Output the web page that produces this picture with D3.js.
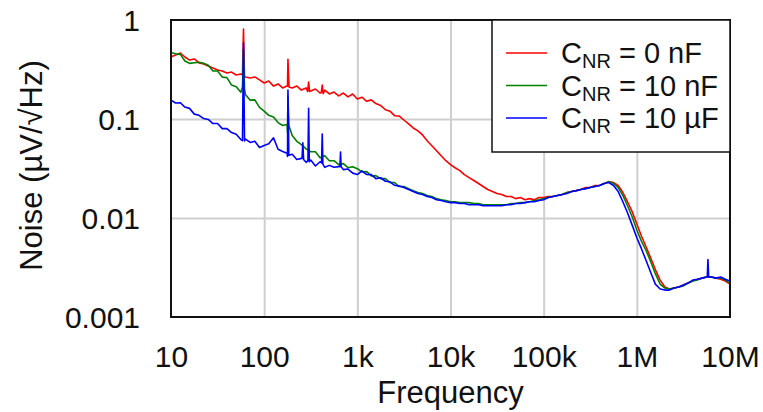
<!DOCTYPE html>
<html><head><meta charset="utf-8">
<script src="https://cdn.jsdelivr.net/npm/d3@7"></script>
<style>
html,body{margin:0;padding:0;background:#fff;}
svg{display:block;font-family:"Liberation Sans",Arial,sans-serif;}
</style></head>
<body>
<svg id="chart" width="763" height="412"></svg>
<script>
// ---- data ----
const freq = [
 10,11.2,12.6,14.1,15.8,17.8,20,22.4,25.1,28.2,31.6,35.5,39.8,44.7,50.1,56.2,63.1,70.8,79.4,89.1,
 100,112,126,141,158,178,200,224,251,282,316,355,398,447,501,562,631,708,794,891,
 1000,1120,1260,1410,1580,1780,2000,2240,2510,2820,3160,3550,3980,4470,5010,5620,6310,7080,7940,8910,
 1e4,1.12e4,1.26e4,1.41e4,1.58e4,1.78e4,2e4,2.24e4,2.51e4,2.82e4,3.16e4,3.55e4,3.98e4,4.47e4,5.01e4,5.62e4,6.31e4,7.08e4,7.94e4,8.91e4,
 1e5,1.12e5,1.26e5,1.41e5,1.58e5,1.78e5,2e5,2.24e5,2.51e5,2.82e5,3.16e5,3.55e5,3.98e5,4.47e5,5.01e5,5.62e5,6.31e5,7.08e5,7.94e5,8.91e5,
 1e6,1.12e6,1.26e6,1.41e6,1.58e6,1.78e6,2e6,2.24e6,2.51e6,2.82e6,3.16e6,3.55e6,3.98e6,4.47e6,5.01e6,5.62e6,6.31e6,7.08e6,7.94e6,8.91e6,
 1e7
];
const noise0nF = [
 0.423,0.443,0.464,0.423,0.394,0.404,0.368,0.359,0.343,0.327,
 0.313,0.305,0.291,0.298,0.278,0.285,0.266,0.260,0.266,0.248,
 0.231,0.242,0.215,0.226,0.206,0.215,0.206,0.215,0.196,0.206,
 0.192,0.201,0.183,0.196,0.179,0.187,0.171,0.183,0.167,0.179,
 0.159,0.166,0.151,0.156,0.143,0.137,0.124,0.120,0.108,0.107,
 0.0977,0.0891,0.0812,0.0758,0.0691,0.0602,0.0536,0.0477,0.0426,0.0379,
 0.0346,0.0322,0.0301,0.0274,0.0256,0.0239,0.0223,0.0208,0.0194,0.0185,
 0.0177,0.0173,0.0165,0.0165,0.0157,0.0161,0.0153,0.0157,0.0153,0.0161,
 0.0161,0.0165,0.0165,0.0169,0.0173,0.0181,0.0185,0.0189,0.0194,0.0203,
 0.0203,0.0213,0.0213,0.0223,0.0233,0.0228,0.0213,0.0181,0.0146,0.0116,
 0.00870,0.00658,0.00510,0.00394,0.00301,0.00236,0.00201,0.00192,0.00196,0.00201,
 0.00210,0.00220,0.00231,0.00241,0.00247,0.00254,0.00254,0.00247,0.00241,0.00231,
 0.00215
];
const noise10nF = [
 0.470,0.455,0.450,0.385,0.365,0.370,0.375,0.365,0.350,0.305,
 0.305,0.265,0.262,0.220,0.212,0.186,0.176,0.155,0.156,0.131,
 0.120,0.109,0.105,0.092,0.086,0.073,0.068,0.0595,0.055,0.050,
 0.0467,0.0467,0.0406,0.0426,0.0379,0.0379,0.0346,0.0354,0.0322,0.0330,
 0.0315,0.0292,0.0294,0.0266,0.0268,0.0250,0.0250,0.0228,0.0228,0.0208,
 0.0208,0.0198,0.0189,0.0181,0.0177,0.0169,0.0165,0.0157,0.0153,0.0150,
 0.0146,0.0146,0.0143,0.0143,0.0143,0.0140,0.0140,0.0136,0.0136,0.0136,
 0.0136,0.0136,0.0136,0.0140,0.0140,0.0143,0.0143,0.0146,0.0150,0.0153,
 0.0157,0.0161,0.0165,0.0169,0.0173,0.0181,0.0185,0.0189,0.0194,0.0198,
 0.0203,0.0208,0.0213,0.0223,0.0233,0.0223,0.0203,0.0169,0.0133,0.0103,
 0.00757,0.00584,0.00467,0.00362,0.00274,0.00215,0.00196,0.00192,0.00196,0.00201,
 0.00206,0.00220,0.00231,0.00236,0.00247,0.00254,0.00254,0.00247,0.00247,0.00236,
 0.00220
];
const noise10uF = [
 0.155,0.145,0.146,0.132,0.128,0.112,0.109,0.101,0.0990,0.0900,
 0.0900,0.0800,0.0800,0.0730,0.0700,0.0620,0.0625,0.0580,0.0595,0.0515,
 0.0540,0.0561,0.0645,0.0495,0.0470,0.0418,0.0440,0.0390,0.0400,0.0365,
 0.0385,0.0335,0.0370,0.0325,0.0340,0.0325,0.0330,0.0308,0.0312,0.0284,
 0.0275,0.0300,0.0275,0.0274,0.0250,0.0255,0.0235,0.0232,0.0214,0.0210,
 0.0203,0.0194,0.0185,0.0177,0.0173,0.0165,0.0161,0.0153,0.0150,0.0146,
 0.0143,0.0143,0.0140,0.0140,0.0136,0.0136,0.0136,0.0133,0.0133,0.0133,
 0.0133,0.0133,0.0136,0.0136,0.0140,0.0140,0.0143,0.0146,0.0146,0.0150,
 0.0153,0.0161,0.0165,0.0169,0.0173,0.0177,0.0185,0.0189,0.0194,0.0198,
 0.0203,0.0208,0.0213,0.0223,0.0228,0.0213,0.0185,0.0146,0.0113,0.00847,
 0.00631,0.00490,0.00370,0.00281,0.00215,0.00192,0.00187,0.00187,0.00196,0.00201,
 0.00210,0.00220,0.00236,0.00241,0.00247,0.00254,0.00254,0.00247,0.00254,0.00241,
 0.00231
];
// narrow line-frequency spikes: [frequency, noise]
const spikes0nF = [[58.5,0.28],[60,0.81],[61.5,0.27],[175,0.215],[180,0.40],[185,0.21],
  [293,0.19],[300,0.236],[307,0.19],[410,0.185],[420,0.22],[430,0.18]];
const spikes10nF = [[58.5,0.21],[60,0.50],[61.5,0.20],[176,0.088],[180,0.17],[184,0.086]];
const spikes10uF = [[58.5,0.0605],[60,0.585],[61.5,0.060],[176,0.045],[180,0.196],[184,0.043],
  [255,0.040],[260,0.0575],[265,0.039],[295,0.038],[300,0.128],[305,0.037],
  [413,0.036],[420,0.0706],[427,0.035],[650,0.033],[660,0.0464],[670,0.033],
  [5.7e6,0.00254],[5.8e6,0.0038],[5.9e6,0.00254]];
const seriesNames = ["0 nF","10 nF","10 \u00b5F"];
const seriesColors = ["#ff0000","#008000","#0000ff"];
const xTickValues = [10,100,1e3,1e4,1e5,1e6,1e7];
const xTickLabels = ["10","100","1k","10k","100k","1M","10M"];
const yTickValues = [0.001,0.01,0.1,1];
const yTickLabels = ["0.001","0.01","0.1","1"];

// ---- drawing ----
const svg = d3.select("#chart");
const L = 171, R = 730, T = 20, B = 317;
const x = d3.scaleLog().domain([10,1e7]).range([L,R]);
const y = d3.scaleLog().domain([0.001,1]).range([B,T]);

svg.append("rect").attr("x",0).attr("y",0).attr("width",763).attr("height",412).attr("fill","#fff");

// grid
const gx = d3.axisBottom(x).tickValues(xTickValues.slice(1,-1)).tickSize(-(B-T)).tickFormat("");
svg.append("g").attr("transform",`translate(0,${B})`).call(gx)
  .call(g=>g.select(".domain").remove())
  .call(g=>g.selectAll("line").attr("stroke","#cfcfcf").attr("stroke-width",2));
const gy = d3.axisLeft(y).tickValues(yTickValues.slice(1,-1)).tickSize(-(R-L)).tickFormat("");
svg.append("g").attr("transform",`translate(${L},0)`).call(gy)
  .call(g=>g.select(".domain").remove())
  .call(g=>g.selectAll("line").attr("stroke","#cfcfcf").attr("stroke-width",2));

svg.append("clipPath").attr("id","clip").append("rect")
  .attr("x",L).attr("y",T).attr("width",R-L).attr("height",B-T);

const build = (vals, spikes) => freq.map((f,i)=>[f,vals[i]]).concat(spikes).sort((a,b)=>a[0]-b[0]);
const allSeries = [build(noise0nF,spikes0nF), build(noise10nF,spikes10nF), build(noise10uF,spikes10uF)];
const line = d3.line().x(d=>x(d[0])).y(d=>y(d[1]));
const lg = svg.append("g").attr("clip-path","url(#clip)");
allSeries.forEach((s,i)=>{
  lg.append("path").datum(s).attr("d",line).attr("fill","none")
    .attr("stroke",seriesColors[i]).attr("stroke-width",1.6).attr("stroke-linejoin","round");
});

// frame
svg.append("rect").attr("x",L).attr("y",T).attr("width",R-L).attr("height",B-T)
  .attr("fill","none").attr("stroke","#111").attr("stroke-width",2);

// tick labels
const xAxis = d3.axisBottom(x).tickValues(xTickValues).tickSize(0).tickPadding(0)
  .tickFormat((d,i)=>xTickLabels[i]);
svg.append("g").attr("transform",`translate(0,${B})`).call(xAxis)
  .call(g=>g.select(".domain").remove())
  .call(g=>g.selectAll("text").attr("y",50).attr("dy",null)
    .attr("font-size",30).attr("fill","#111").attr("font-family","'Liberation Sans',Arial,sans-serif"));
const yAxis = d3.axisLeft(y).tickValues(yTickValues).tickSize(0).tickPadding(0)
  .tickFormat((d,i)=>yTickLabels[i]);
svg.append("g").attr("transform",`translate(140,0)`).call(yAxis)
  .call(g=>g.select(".domain").remove())
  .call(g=>g.selectAll("text").attr("x",0).attr("dy","0.36em")
    .attr("font-size",30).attr("fill","#111").attr("font-family","'Liberation Sans',Arial,sans-serif"));

// axis titles
svg.append("text").attr("x",(L+R)/2).attr("y",403).attr("text-anchor","middle")
  .attr("font-size",31).attr("fill","#111").text("Frequency");
svg.append("text").attr("transform",`translate(42,${(T+B)/2-3}) rotate(-90)`)
  .attr("text-anchor","middle").attr("font-size",31).attr("fill","#111")
  .text("Noise (\u00b5V/\u221aHz)");

// legend
const leg = svg.append("g");
leg.append("rect").attr("x",492).attr("y",T).attr("width",R-492).attr("height",132)
  .attr("fill","#fff").attr("stroke","#111").attr("stroke-width",1.5);
seriesNames.forEach((n,i)=>{
  const cy = 53 + i*32.5;
  leg.append("line").attr("x1",506).attr("x2",547).attr("y1",cy).attr("y2",cy)
    .attr("stroke",seriesColors[i]).attr("stroke-width",1.5);
  const t = leg.append("text").attr("x",561).attr("y",cy+10).attr("font-size",29).attr("fill","#111");
  t.append("tspan").text("C");
  t.append("tspan").attr("font-size",20).attr("dy",5).text("NR");
  t.append("tspan").attr("dy",-5).text(" = " + n);
});
</script>
</body></html>
